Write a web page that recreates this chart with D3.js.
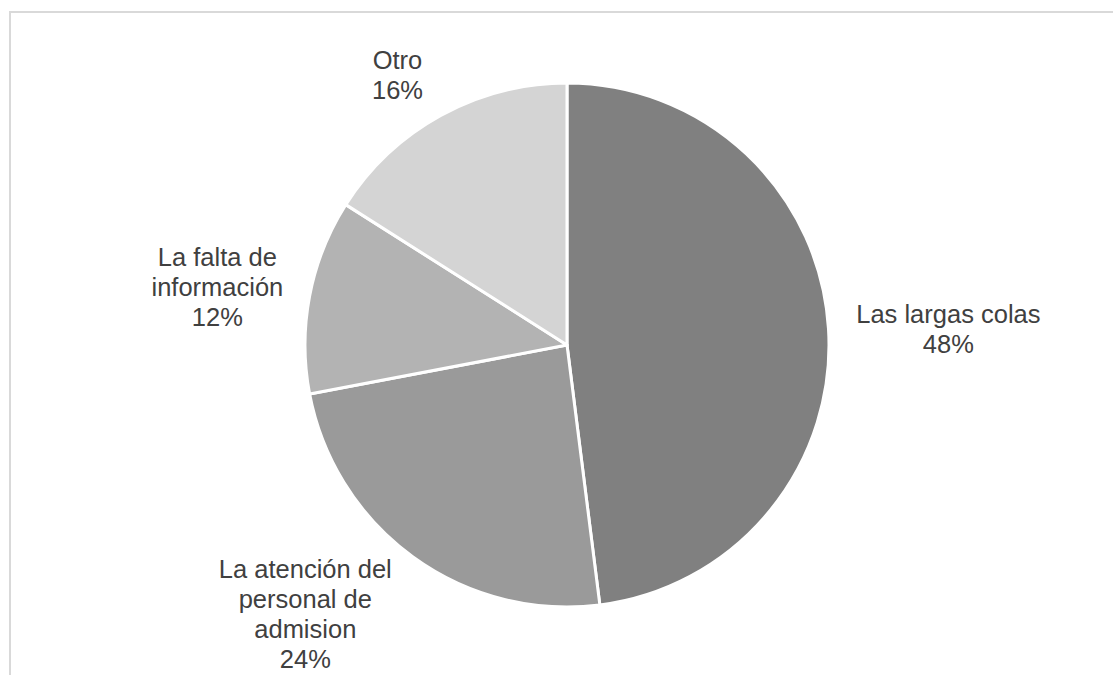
<!DOCTYPE html>
<html>
<head>
<meta charset="utf-8">
<script src="https://cdn.jsdelivr.net/npm/d3@7"></script>
<style>
  html, body { margin: 0; padding: 0; background: #ffffff; }
  svg { display: block; }
</style>
</head>
<body>
<svg id="chart" width="1113" height="675"></svg>
<script>
// Survey answers: main reason for dissatisfaction
const categories = ["Las largas colas", "La atención del personal de admision", "La falta de información", "Otro"];
const values = [48, 24, 12, 16];
const labelLines = [
  ["Las largas colas"],
  ["La atención del", "personal de", "admision"],
  ["La falta de", "información"],
  ["Otro"]
];
const colors = ["#808080", "#9a9a9a", "#b3b3b3", "#d4d4d4"];

// Layout
const W = 1113, H = 675;
const cx = 567, cy = 345, radius = 262;
const fontSize = 25.5, lineH = 30;
const labelGap = 27;
// small per-label nudges after the outside-end placement
const labelNudge = [[1, 4], [-41, -13], [-1, 5], [-18, 10]];

const svg = d3.select("#chart");

// chart area frame
svg.append("rect")
  .attr("x", 10).attr("y", 12)
  .attr("width", W + 20).attr("height", H + 20)
  .attr("fill", "none")
  .attr("stroke", "#d9d9d9")
  .attr("stroke-width", 2);

const pie = d3.pie().sort(null).value(d => d);
const arcs = pie(values);
const arc = d3.arc().innerRadius(0).outerRadius(radius);

const g = svg.append("g").attr("transform", `translate(${cx},${cy})`);

g.selectAll("path.slice")
  .data(arcs)
  .join("path")
  .attr("class", "slice")
  .attr("d", arc)
  .attr("fill", (d, i) => colors[i])
  .attr("stroke", "#ffffff")
  .attr("stroke-width", 3)
  .attr("stroke-linejoin", "round");

// measure text widths for outside-end label placement
const measure = svg.append("text")
  .attr("font-family", "Liberation Sans, Arial, sans-serif")
  .attr("font-size", fontSize)
  .attr("visibility", "hidden");
function textWidth(s) {
  measure.text(s);
  return measure.node().getComputedTextLength();
}

const fmt = d3.format(".0%");
const total = d3.sum(values);

arcs.forEach((d, i) => {
  const lines = labelLines[i].concat([fmt(d.value / total)]);
  const w = d3.max(lines, textWidth);
  const h = lines.length * lineH;
  const a = (d.startAngle + d.endAngle) / 2;
  const ux = Math.sin(a), uy = -Math.cos(a);
  const px = (radius + labelGap) * ux;
  const py = (radius + labelGap) * uy;
  const bx = px + ux * w / 2 + labelNudge[i][0];
  const by = py + uy * h / 2 + labelNudge[i][1];

  const t = g.append("text")
    .attr("font-family", "Liberation Sans, Arial, sans-serif")
    .attr("font-size", fontSize)
    .attr("fill", "#404040")
    .attr("text-anchor", "middle");
  lines.forEach((s, k) => {
    t.append("tspan")
      .attr("x", bx)
      .attr("y", by - (lines.length - 1) * lineH / 2 + k * lineH)
      .attr("dy", "0.35em")
      .text(s);
  });
});

measure.remove();
</script>
</body>
</html>
